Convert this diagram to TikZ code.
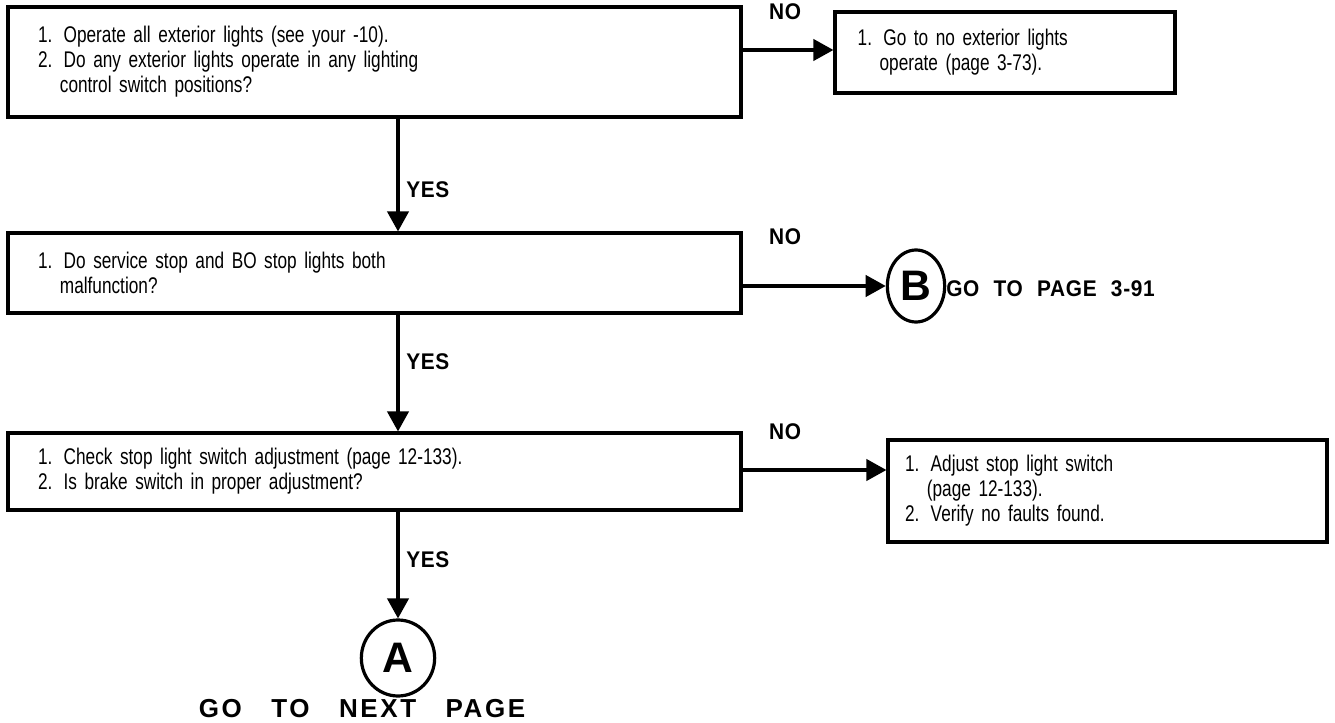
\documentclass[tikz,border=0pt]{standalone}
\usepackage{fontspec}
\setmainfont{Liberation Sans}[FakeStretch=0.76, WordSpace=1.8]
\newfontfamily\labelfont{Liberation Sans}[FakeStretch=0.92, WordSpace=2.2, LetterSpace=3]
\newfontfamily\widelabelfont{Liberation Sans}[WordSpace=3.0, LetterSpace=10]
\newfontfamily\connfont{Liberation Sans}
\usetikzlibrary{arrows.meta,shapes.geometric}
\tikzset{
  box/.style={draw, line width=2.4pt, rectangle, align=left, inner xsep=0pt,
    font=\fontsize{17pt}{18.75pt}\selectfont},
  flow/.style={line width=2.3pt, -{Triangle[length=15pt,width=16pt]}},
  lbl/.style={font=\labelfont\bfseries\fontsize{17pt}{19pt}\selectfont, inner sep=0pt},
  widelbl/.style={font=\widelabelfont\bfseries\fontsize{19.5pt}{21pt}\selectfont, inner sep=0pt},
  conn/.style={draw, ellipse, line width=2.4pt, inner sep=0pt,
    font=\connfont\bfseries\fontsize{32pt}{32pt}\selectfont},
}
\begin{document}
\begin{tikzpicture}[x=0.75pt,y=-0.75pt]
\useasboundingbox (0,0) rectangle (1335,723);
% boxes
\node[box, minimum width=549.75pt, minimum height=82.5pt, text width=504.75pt] (b1) at (374.5,62)
  {1. Operate all exterior lights (see your -10).\\
   2. Do any exterior lights operate in any lighting\\
   \phantom{2.~}control switch positions?};
\node[box, minimum width=255pt, minimum height=60.75pt, text width=221pt] (b2) at (1005,52.5)
  {1. Go to no exterior lights\\
   \phantom{1.~}operate (page 3-73).};
\node[box, minimum width=549.75pt, minimum height=60pt, text width=504.75pt] (b3) at (374.5,273)
  {1. Do service stop and BO stop lights both\\
   \phantom{1.~}malfunction?};
\node[box, minimum width=549.75pt, minimum height=57.75pt, text width=504.75pt] (b4) at (374.5,471.5)
  {1. Check stop light switch adjustment (page 12-133).\\
   2. Is brake switch in proper adjustment?};
\node[box, minimum width=329.25pt, minimum height=76.5pt, text width=303.75pt] (b5) at (1107.5,491)
  {1. Adjust stop light switch\\
   \phantom{1.~}(page 12-133).\\
   2. Verify no faults found.};
% connectors
\node[conn, minimum width=43pt, minimum height=54pt] (cB) at (916,286) {B};
\node[conn, minimum width=55pt, minimum height=57pt] (cA) at (398,658) {A};
\node[lbl, anchor=west] (tB) at (946,289) {GO TO PAGE 3-91};
\node[widelbl] (tA) at (362,709) {GO TO NEXT PAGE};
% arrows
\coordinate (s1) at (398,118);
\draw[flow] (b1.east |- 0,50) -- (b2.west |- 0,50);
\draw[flow] (b1.south -| s1) -- (b3.north -| s1);
\draw[flow] (b3.east |- cB.west) -- (cB.west);
\draw[flow] (b3.south -| s1) -- (b4.north -| s1);
\draw[flow] (b4.east |- 0,470) -- (b5.west |- 0,470);
\draw[flow] (b4.south -| s1) -- (cA.north);
% labels
\node[lbl] (no1) at (785,12) {NO};
\node[lbl] (no2) at (785,237) {NO};
\node[lbl] (no3) at (785,432) {NO};
\node[lbl, anchor=west] (y1) at (406,190) {YES};
\node[lbl, anchor=west] (y2) at (406,362) {YES};
\node[lbl, anchor=west] (y3) at (406,560) {YES};
\end{tikzpicture}
\end{document}
